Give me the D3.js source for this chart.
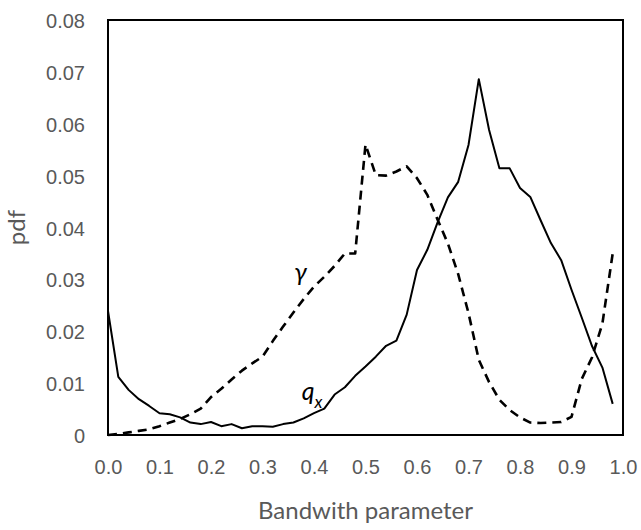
<!DOCTYPE html>
<html>
<head>
<meta charset="utf-8">
<script src="https://cdn.jsdelivr.net/npm/d3@7"></script>
<style>
    body { margin: 0; background: #fff; }
    svg { display: block; font-family: Lato, "Noto Sans", sans-serif; }
</style>
</head>
<body>
<div id="chart"></div>
<script>
// bandwidth parameter values (x)
const bandwidth = [
    0.00, 0.02, 0.04, 0.06, 0.08, 0.10, 0.12, 0.14, 0.16, 0.18,
    0.20, 0.22, 0.24, 0.26, 0.28, 0.30, 0.32, 0.34, 0.36, 0.38,
    0.40, 0.42, 0.44, 0.46, 0.48, 0.50, 0.52, 0.54, 0.56, 0.58,
    0.60, 0.62, 0.64, 0.66, 0.68, 0.70, 0.72, 0.74, 0.76, 0.78,
    0.80, 0.82, 0.84, 0.86, 0.88, 0.90, 0.92, 0.94, 0.96, 0.98
];

// pdf of q_x (solid line)
const pdfQx = [
    0.0239, 0.0112, 0.0087, 0.0069, 0.0056, 0.0042, 0.0040, 0.0034, 0.0024, 0.0021,
    0.0025, 0.0017, 0.0021, 0.0013, 0.0017, 0.0017, 0.0016, 0.0021, 0.0024, 0.0032,
    0.0042, 0.0051, 0.0078, 0.0092, 0.0114, 0.0132, 0.0151, 0.0172, 0.0182, 0.0232,
    0.0318, 0.0357, 0.0410, 0.0458, 0.0488, 0.0559, 0.0686, 0.0588, 0.0514, 0.0514,
    0.0476, 0.0459, 0.0414, 0.0370, 0.0337, 0.0280, 0.0226, 0.0171, 0.0130, 0.0060
];

// pdf of gamma (dashed line)
const pdfGamma = [
    0.0000, 0.0002, 0.0005, 0.0008, 0.0011, 0.0017, 0.0024, 0.0031, 0.0040, 0.0051,
    0.0073, 0.0089, 0.0107, 0.0124, 0.0138, 0.0151, 0.0181, 0.0209, 0.0236, 0.0262,
    0.0286, 0.0305, 0.0326, 0.0350, 0.0350, 0.0560, 0.0501, 0.0500, 0.0508, 0.0518,
    0.0495, 0.0463, 0.0415, 0.0369, 0.0310, 0.0235, 0.0145, 0.0102, 0.0068, 0.0048,
    0.0034, 0.0024, 0.0023, 0.0024, 0.0025, 0.0035, 0.0108, 0.0150, 0.0215, 0.0350
];

const xTicks = [0, 0.1, 0.2, 0.3, 0.4, 0.5, 0.6, 0.7, 0.8, 0.9, 1.0];
const yTicks = [0, 0.01, 0.02, 0.03, 0.04, 0.05, 0.06, 0.07, 0.08];

document.addEventListener("DOMContentLoaded", () => {
    const width = 641;
    const height = 530;
    const margin = { top: 20, right: 18, bottom: 95, left: 108 };
    const grey = "#595959";

    const svg = d3.select("#chart")
        .append("svg")
        .attr("width", width)
        .attr("height", height);

    const x = d3.scaleLinear().domain([0, 1]).range([margin.left, width - margin.right]);
    const y = d3.scaleLinear().domain([0, 0.08]).range([height - margin.bottom, margin.top]);

    // x axis labels (no tick marks, no domain line)
    const xAxis = svg.append("g")
        .attr("transform", `translate(0,${height - margin.bottom})`)
        .call(d3.axisBottom(x).tickValues(xTicks).tickFormat(d3.format(".1f")).tickSize(0).tickPadding(25));
    xAxis.select(".domain").remove();
    xAxis.selectAll("text").attr("fill", grey).style("font-size", "20px");

    // y axis labels
    const yAxis = svg.append("g")
        .attr("transform", `translate(${margin.left},0)`)
        .call(d3.axisLeft(y).tickValues(yTicks)
            .tickFormat(d => d === 0 ? "0" : d3.format(".2f")(d))
            .tickSize(0).tickPadding(23));
    yAxis.select(".domain").remove();
    yAxis.selectAll("text").attr("fill", grey).attr("dy", "0.38em").style("font-size", "20px");

    // lines
    const line = (values) => d3.line()
        .x((d, i) => x(bandwidth[i]))
        .y(d => y(d))(values);

    svg.append("path")
        .attr("d", line(pdfGamma))
        .attr("fill", "none")
        .attr("stroke", "#000")
        .attr("stroke-width", 2.6)
        .attr("stroke-dasharray", "9,6")
        .attr("stroke-linejoin", "round");

    svg.append("path")
        .attr("d", line(pdfQx))
        .attr("fill", "none")
        .attr("stroke", "#000")
        .attr("stroke-width", 2)
        .attr("stroke-linejoin", "round");

    // plot frame
    svg.append("rect")
        .attr("x", x(0))
        .attr("y", y(0.08))
        .attr("width", x(1) - x(0))
        .attr("height", y(0) - y(0.08))
        .attr("fill", "none")
        .attr("stroke", "#000")
        .attr("stroke-width", 2);

    // series labels
    svg.append("text")
        .attr("x", x(0.374))
        .attr("y", y(0.0296))
        .attr("text-anchor", "middle")
        .style("font-size", "25px")
        .style("font-style", "italic")
        .text("γ");

    const qLabel = svg.append("text")
        .attr("x", x(0.376))
        .attr("y", y(0.0068))
        .style("font-size", "25px")
        .style("font-style", "italic")
        .text("q");
    qLabel.append("tspan")
        .attr("dy", 8)
        .style("font-size", "17px")
        .text("x");

    // axis titles
    svg.append("text")
        .attr("x", (x(0) + x(1)) / 2)
        .attr("y", 519)
        .attr("text-anchor", "middle")
        .attr("fill", grey)
        .style("font-size", "24px")
        .text("Bandwith parameter");

    svg.append("text")
        .attr("transform", `translate(25,${(y(0) + y(0.08)) / 2}) rotate(-90)`)
        .attr("text-anchor", "middle")
        .attr("fill", grey)
        .style("font-size", "24px")
        .text("pdf");
});
</script>
</body>
</html>
